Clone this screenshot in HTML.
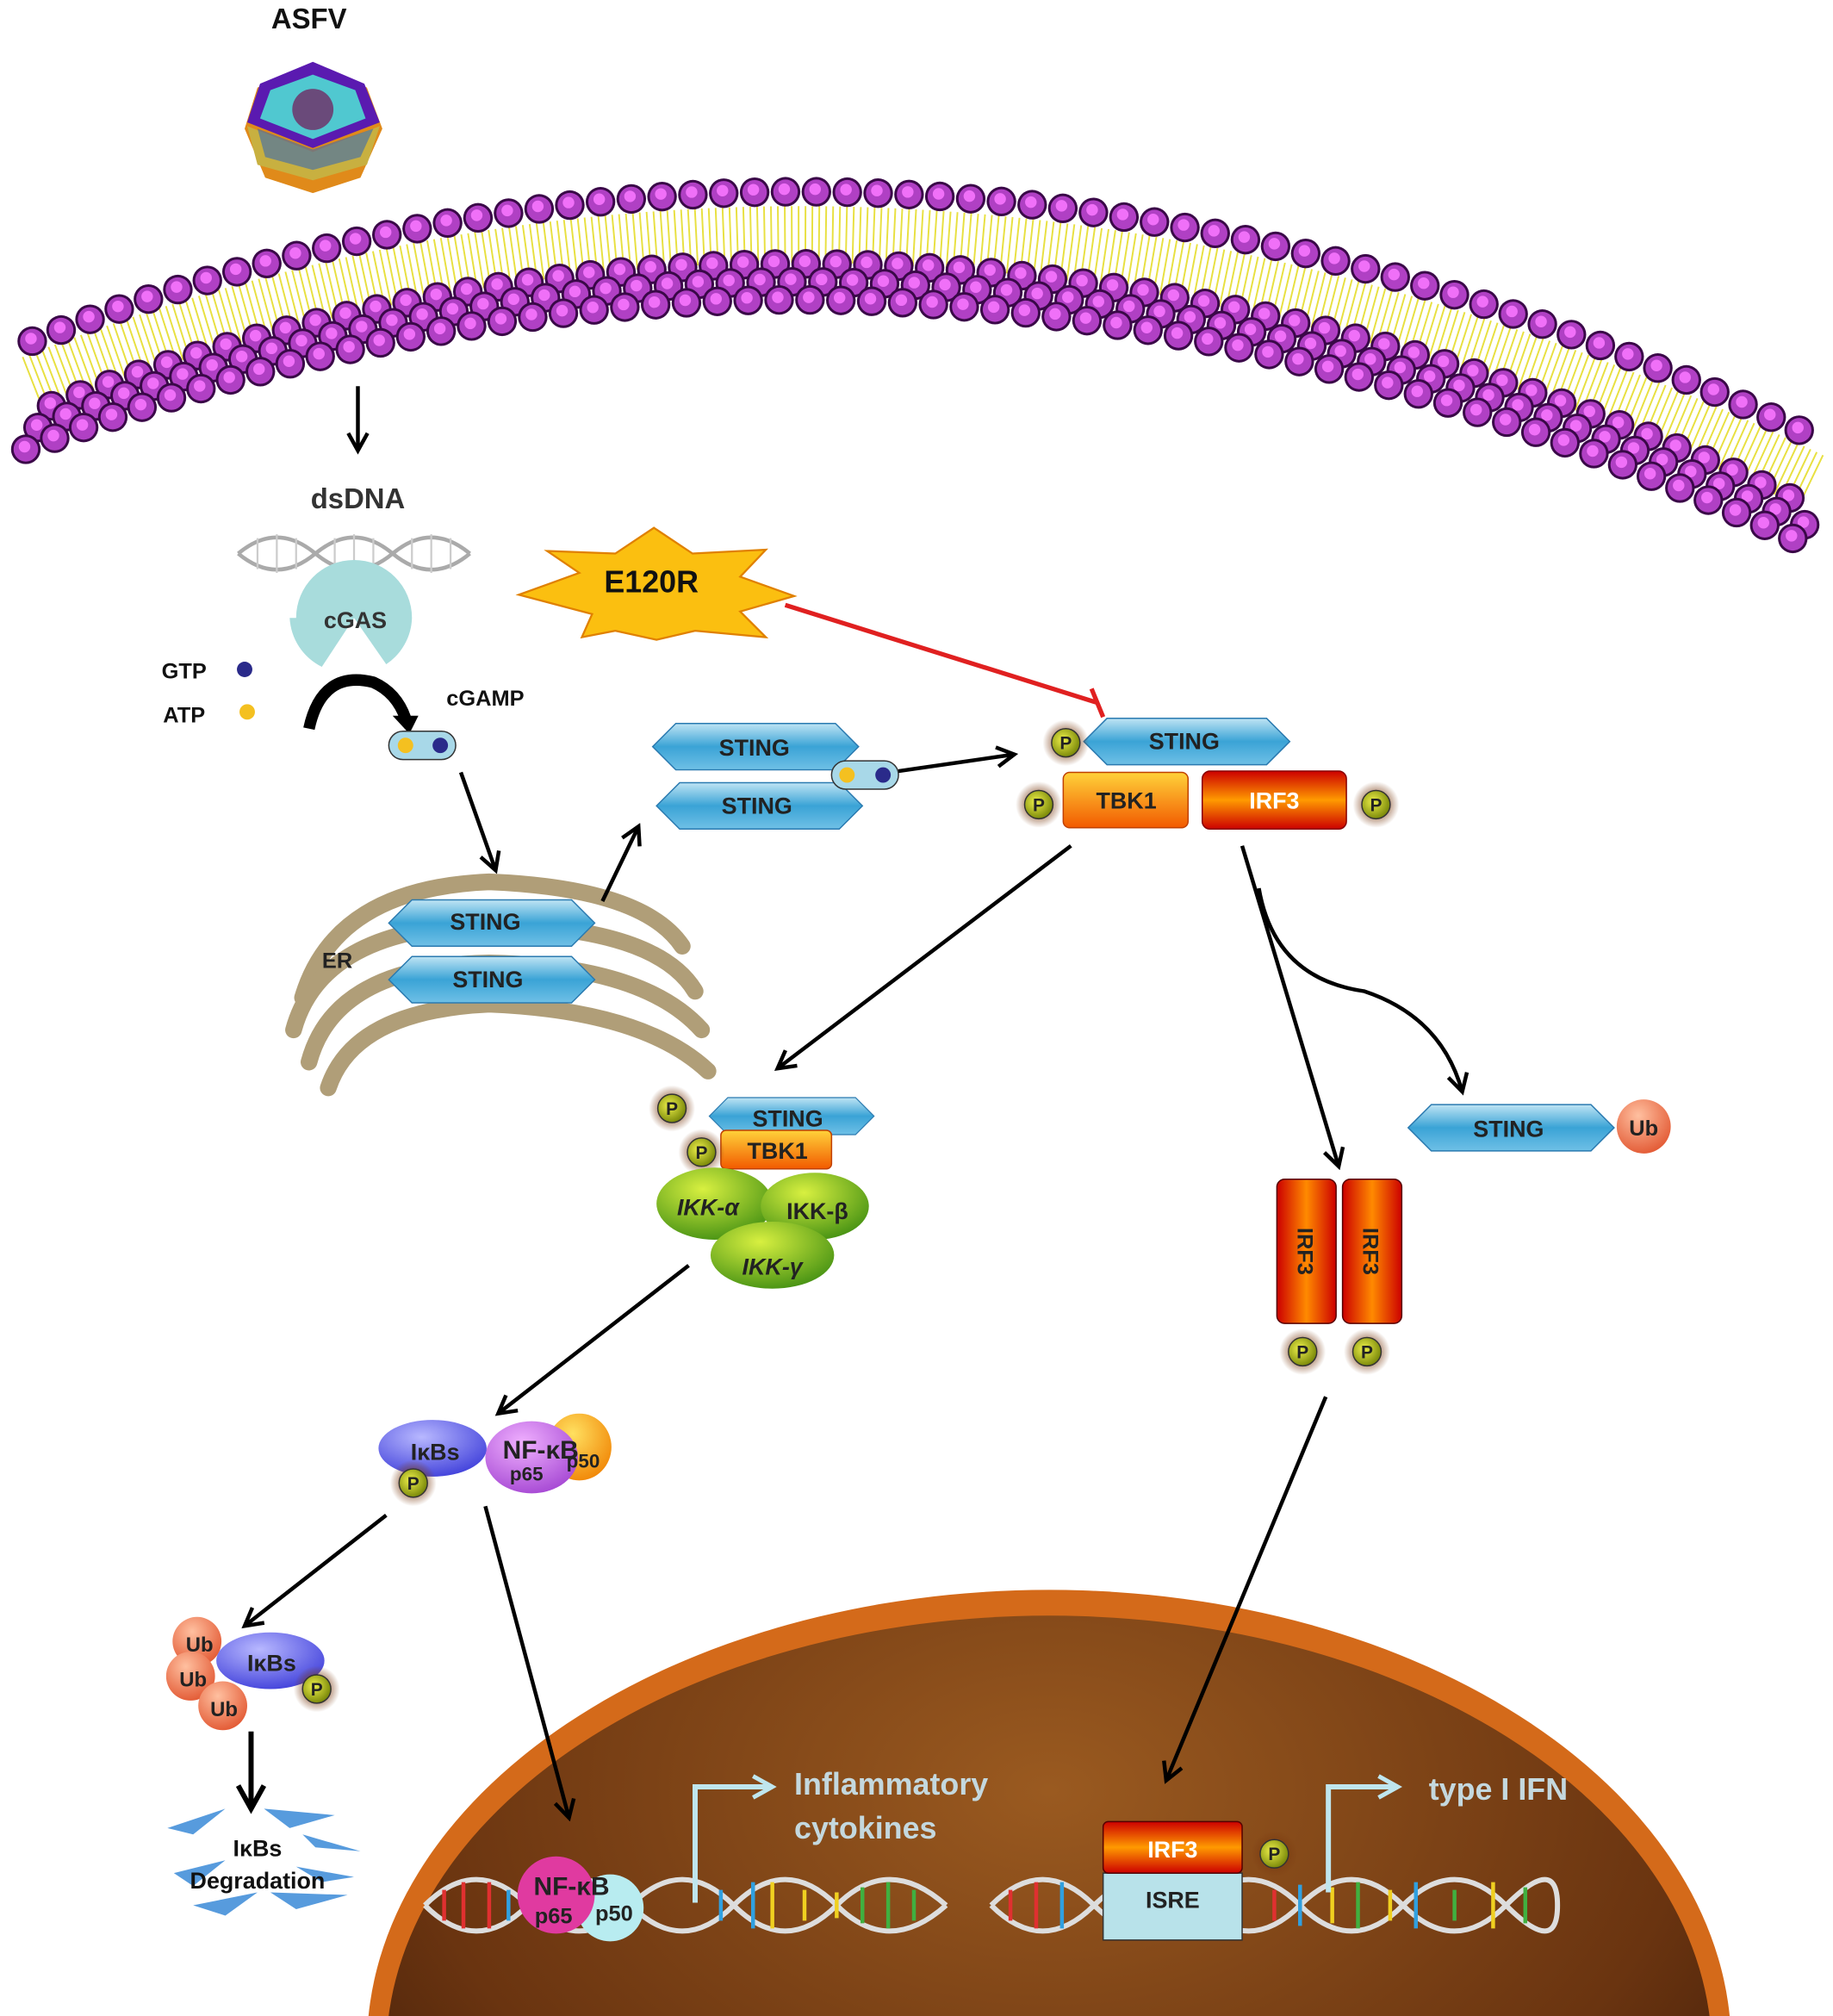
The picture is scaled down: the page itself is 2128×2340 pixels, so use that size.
<!DOCTYPE html>
<html><head><meta charset="utf-8"><style>
html,body{margin:0;padding:0;background:#fff;overflow:hidden;width:2128px;height:2340px}
svg{display:block}
text{font-family:"Liberation Sans",sans-serif;font-weight:bold}
</style></head><body>
<svg width="2128" height="2340" viewBox="0 0 1424 1566" xmlns="http://www.w3.org/2000/svg">
<defs>
<linearGradient id="hx" x1="0" y1="0" x2="0" y2="1"><stop offset="0" stop-color="#bfe4f4"/><stop offset="0.5" stop-color="#3aa3d6"/><stop offset="1" stop-color="#6fc0e6"/></linearGradient>
<linearGradient id="tb" x1="0" y1="0" x2="0" y2="1"><stop offset="0" stop-color="#ffd23a"/><stop offset="1" stop-color="#f25a00"/></linearGradient>
<linearGradient id="ir" x1="0" y1="0" x2="0" y2="1"><stop offset="0" stop-color="#c00"/><stop offset="0.5" stop-color="#ff9a00"/><stop offset="1" stop-color="#c00"/></linearGradient>
<linearGradient id="irv" x1="0" y1="0" x2="1" y2="0"><stop offset="0" stop-color="#c00"/><stop offset="0.5" stop-color="#ff8a00"/><stop offset="1" stop-color="#c00"/></linearGradient>
<radialGradient id="pg" cx="0.4" cy="0.4" r="0.7"><stop offset="0" stop-color="#eef04a"/><stop offset="1" stop-color="#6a7a00"/></radialGradient>
<radialGradient id="ph" cx="0.5" cy="0.5" r="0.5"><stop offset="0.5" stop-color="#7a3a10" stop-opacity="0.6"/><stop offset="1" stop-color="#7a3a10" stop-opacity="0"/></radialGradient>
<radialGradient id="nuc" cx="0.5" cy="0.2" r="0.8"><stop offset="0" stop-color="#9a5a20"/><stop offset="0.6" stop-color="#6a3410"/><stop offset="1" stop-color="#2a1004"/></radialGradient>
<radialGradient id="grn" cx="0.4" cy="0.3" r="0.8"><stop offset="0" stop-color="#d8f040"/><stop offset="1" stop-color="#3a8a10"/></radialGradient>
<radialGradient id="ub" cx="0.4" cy="0.3" r="0.8"><stop offset="0" stop-color="#ffc0a0"/><stop offset="1" stop-color="#e0502a"/></radialGradient>
<radialGradient id="ikb" cx="0.4" cy="0.3" r="0.8"><stop offset="0" stop-color="#b8b8ff"/><stop offset="1" stop-color="#3838d8"/></radialGradient>
<radialGradient id="p65" cx="0.4" cy="0.3" r="0.8"><stop offset="0" stop-color="#f0b0ff"/><stop offset="1" stop-color="#a040d0"/></radialGradient>
<radialGradient id="p50" cx="0.4" cy="0.3" r="0.8"><stop offset="0" stop-color="#ffe060"/><stop offset="1" stop-color="#f08000"/></radialGradient>
<marker id="ah" viewBox="0 0 12 12" refX="10" refY="6" markerWidth="6" markerHeight="6" orient="auto"><path d="M1,1 L10,6 L1,11" fill="none" stroke="#000" stroke-width="2"/></marker>
<marker id="ahc" viewBox="0 0 12 12" refX="10" refY="6" markerWidth="5" markerHeight="5" orient="auto"><path d="M1,1 L10,6 L1,11" fill="none" stroke="#bfe6ee" stroke-width="2"/></marker>
<symbol id="hex" viewBox="-82 -20 164 40" overflow="visible"><polygon points="-80,0 -62,-18 62,-18 80,0 62,18 -62,18" fill="url(#hx)" stroke="#2a7ab0" stroke-width="1"/></symbol>
<g id="P"><circle r="18" fill="url(#ph)"/><circle r="11" fill="url(#pg)" stroke="#333" stroke-width="1"/><text y="5" text-anchor="middle" font-size="14" fill="#222">P</text></g>
<g id="row" fill="none" stroke-linecap="round">
<path d="M25,265 Q700,0 1410,340" stroke="#3a0848" stroke-width="23" stroke-dasharray="0 24"/>
<path d="M25,265 Q700,0 1410,340" stroke="#b040c4" stroke-width="19" stroke-dasharray="0 24"/>
<path d="M24,263 Q699,-2 1409,338" stroke="#f070f8" stroke-width="9" stroke-dasharray="0 24"/>
</g>
</defs>

<!-- membrane -->
<path d="M25,298 Q700,33 1408,374" fill="none" stroke="#e8e040" stroke-width="44" stroke-dasharray="1.3 4"/>
<use href="#row" x="0" y="56" style="stroke-dashoffset:8"/>
<use href="#row" x="-3" y="70" style="stroke-dashoffset:16"/>
<use href="#row" x="-5" y="84"/>
<use href="#row"/>

<!-- nucleus -->
<ellipse cx="815" cy="1590" rx="530" ry="355" fill="#d46a1a"/>
<ellipse cx="815" cy="1595" rx="515" ry="340" fill="url(#nuc)"/>

<!-- ASFV -->
<text x="240" y="22" text-anchor="middle" font-size="22" fill="#111">ASFV</text>
<polygon points="243,50 285,68 297,100 280,138 243,150 206,138 190,100 200,68" fill="#e08a1a"/>
<polygon points="192,98 243,118 295,98 285,128 243,140 200,128" fill="#c8b040"/>
<polygon points="200,100 243,116 290,100 280,122 243,132 206,122" fill="#3a6ab0" opacity="0.6"/>
<polygon points="243,48 283,65 295,95 243,115 192,95 202,65" fill="#5a1ab0"/>
<polygon points="243,58 276,70 284,92 243,108 202,92 210,70" fill="#50c8d0"/>
<circle cx="243" cy="85" r="16" fill="#6a4a7a"/>

<!-- dsDNA -->
<line x1="278" y1="300" x2="278" y2="350" stroke="#000" stroke-width="3" marker-end="url(#ah)"/>
<text x="278" y="395" text-anchor="middle" font-size="22" fill="#333">dsDNA</text>
<path d="M185,430 Q215,405 245,430 T305,430 T365,430" fill="none" stroke="#aaa" stroke-width="3"/>
<path d="M185,430 Q215,455 245,430 T305,430 T365,430" fill="none" stroke="#aaa" stroke-width="3"/>
<path d="M200,418 v24 M215,415 v30 M230,418 v24 M260,418 v24 M275,415 v30 M290,418 v24 M320,418 v24 M335,415 v30 M350,418 v24" stroke="#ccc" stroke-width="1.5"/>
<!-- cGAS -->
<path d="M275,480 m-45,0 a45,45 0 1,1 90,0 a45,45 0 0,1 -20,36 L275,480 L250,518 a45,45 0 0,1 -25,-38z" fill="#a8dcdc"/>
<text x="276" y="488" text-anchor="middle" font-size="18" fill="#333">cGAS</text>
<text x="143" y="527" text-anchor="middle" font-size="17" fill="#111">GTP</text>
<circle cx="190" cy="520" r="6" fill="#2a2a8a"/>
<text x="143" y="561" text-anchor="middle" font-size="17" fill="#111">ATP</text>
<circle cx="192" cy="553" r="6" fill="#f4c020"/>
<path d="M240,566 Q250,520 290,530 Q308,538 315,558" fill="none" stroke="#000" stroke-width="9"/>
<polygon points="305,556 325,556 318,570" fill="#000"/>
<text x="377" y="548" text-anchor="middle" font-size="17" fill="#111">cGAMP</text>
<rect x="302" y="568" width="52" height="22" rx="11" fill="#a8d8e8" stroke="#333"/>
<circle cx="315" cy="579" r="6" fill="#f4c020"/><circle cx="342" cy="579" r="6" fill="#2a2a8a"/>
<line x1="358" y1="600" x2="385" y2="676" stroke="#000" stroke-width="3" marker-end="url(#ah)"/>

<!-- ER -->
<g fill="none" stroke="#a8946a" stroke-width="13" stroke-linecap="round" opacity="0.9">
<path d="M235,775 Q260,690 380,685 Q500,690 530,735"/>
<path d="M228,800 Q250,720 380,718 Q510,720 540,770"/>
<path d="M240,825 Q260,750 380,748 Q500,750 545,800"/>
<path d="M255,845 Q275,785 380,780 Q500,785 550,832"/>
</g>
<text x="262" y="752" text-anchor="middle" font-size="17" fill="#222">ER</text>
<use href="#hex" x="300" y="697" width="164" height="40"/>
<text x="377" y="722" text-anchor="middle" font-size="18" fill="#222">STING</text>
<use href="#hex" x="300" y="741" width="164" height="40"/>
<text x="379" y="767" text-anchor="middle" font-size="18" fill="#222">STING</text>
<line x1="468" y1="700" x2="496" y2="642" stroke="#000" stroke-width="3" marker-end="url(#ah)"/>

<use href="#hex" x="505" y="560" width="164" height="40"/>
<text x="586" y="587" text-anchor="middle" font-size="18" fill="#222">STING</text>
<use href="#hex" x="508" y="606" width="164" height="40"/>
<text x="588" y="632" text-anchor="middle" font-size="18" fill="#222">STING</text>
<rect x="646" y="591" width="52" height="22" rx="11" fill="#a8d8e8" stroke="#333"/>
<circle cx="658" cy="602" r="6" fill="#f4c020"/><circle cx="686" cy="602" r="6" fill="#2a2a8a"/>
<line x1="698" y1="599" x2="788" y2="586" stroke="#000" stroke-width="3" marker-end="url(#ah)"/>

<!-- E120R -->
<polygon points="403,462 450,445 425,428 478,430 508,410 538,430 595,427 575,448 617,463 575,475 595,495 540,490 510,497 478,490 452,495 460,477" fill="#fbbf10" stroke="#e08000" stroke-width="1.5"/>
<text x="506" y="460" text-anchor="middle" font-size="24" fill="#111">E120R</text>
<line x1="610" y1="470" x2="853" y2="546" stroke="#e02020" stroke-width="3.5"/>
<line x1="848" y1="535" x2="857" y2="557" stroke="#e02020" stroke-width="3.5"/>

<!-- top complex -->
<use href="#hex" x="840" y="556" width="164" height="40"/>
<text x="920" y="582" text-anchor="middle" font-size="18" fill="#222">STING</text>
<use href="#P" x="828" y="577"/>
<rect x="826" y="600" width="97" height="43" rx="5" fill="url(#tb)" stroke="#c04000"/>
<text x="875" y="628" text-anchor="middle" font-size="18" fill="#222">TBK1</text>
<rect x="934" y="599" width="112" height="45" rx="6" fill="url(#ir)" stroke="#800"/>
<text x="990" y="628" text-anchor="middle" font-size="18" fill="#fff">IRF3</text>
<use href="#P" x="807" y="625"/>
<use href="#P" x="1069" y="625"/>

<line x1="832" y1="657" x2="604" y2="830" stroke="#000" stroke-width="3" marker-end="url(#ah)"/>
<line x1="965" y1="657" x2="1040" y2="906" stroke="#000" stroke-width="3" marker-end="url(#ah)"/>
<path d="M978,690 Q990,760 1060,770 Q1120,790 1136,848" fill="none" stroke="#000" stroke-width="3" marker-end="url(#ah)"/>

<!-- STING-Ub -->
<use href="#hex" x="1092" y="856" width="164" height="40"/>
<text x="1172" y="883" text-anchor="middle" font-size="18" fill="#222">STING</text>
<circle cx="1277" cy="875" r="21" fill="url(#ub)"/>
<text x="1277" y="882" text-anchor="middle" font-size="17" fill="#222">Ub</text>

<!-- IRF3 dimer -->
<rect x="992" y="916" width="46" height="112" rx="6" fill="url(#irv)" stroke="#500"/>
<rect x="1043" y="916" width="46" height="112" rx="6" fill="url(#irv)" stroke="#500"/>
<text transform="translate(1008,972) rotate(90)" text-anchor="middle" font-size="17" fill="#222">IRF3</text>
<text transform="translate(1059,972) rotate(90)" text-anchor="middle" font-size="17" fill="#222">IRF3</text>
<use href="#P" x="1012" y="1050"/><use href="#P" x="1062" y="1050"/>
<line x1="1030" y1="1085" x2="906" y2="1383" stroke="#000" stroke-width="3" marker-end="url(#ah)"/>

<!-- middle complex -->
<use href="#hex" x="533" y="851" width="164" height="32"/>
<text x="612" y="875" text-anchor="middle" font-size="18" fill="#222">STING</text>
<use href="#P" x="522" y="861"/>
<rect x="560" y="878" width="86" height="30" rx="4" fill="url(#tb)" stroke="#c04000"/>
<text x="604" y="900" text-anchor="middle" font-size="18" fill="#222">TBK1</text>
<use href="#P" x="545" y="895"/>
<ellipse cx="555" cy="935" rx="45" ry="28" fill="url(#grn)"/>
<ellipse cx="633" cy="937" rx="42" ry="26" fill="url(#grn)"/>
<ellipse cx="600" cy="975" rx="48" ry="26" fill="url(#grn)"/>
<text x="550" y="944" text-anchor="middle" font-size="18" fill="#222" font-style="italic" font-weight="normal">IKK-α</text>
<text x="635" y="947" text-anchor="middle" font-size="18" fill="#222" font-weight="normal">IKK-β</text>
<text x="600" y="990" text-anchor="middle" font-size="18" fill="#222" font-style="italic" font-weight="normal">IKK-γ</text>
<line x1="535" y1="983" x2="387" y2="1098" stroke="#000" stroke-width="3" marker-end="url(#ah)"/>

<!-- IkBs NF-kB -->
<ellipse cx="450" cy="1124" rx="25" ry="26" fill="url(#p50)"/>
<ellipse cx="413" cy="1132" rx="36" ry="28" fill="url(#p65)"/>
<ellipse cx="336" cy="1125" rx="42" ry="22" fill="url(#ikb)"/>
<text x="338" y="1134" text-anchor="middle" font-size="18" fill="#222" font-weight="normal">IκBs</text>
<text x="420" y="1133" text-anchor="middle" font-size="20" fill="#222">NF-κB</text>
<text x="409" y="1150" text-anchor="middle" font-size="15" fill="#222">p65</text>
<text x="453" y="1140" text-anchor="middle" font-size="15" fill="#222">p50</text>
<use href="#P" x="321" y="1152"/>
<line x1="300" y1="1177" x2="190" y2="1263" stroke="#000" stroke-width="3" marker-end="url(#ah)"/>
<line x1="377" y1="1170" x2="442" y2="1412" stroke="#000" stroke-width="3" marker-end="url(#ah)"/>

<!-- Ub IkBs -->
<circle cx="153" cy="1275" r="19" fill="url(#ub)"/>
<circle cx="148" cy="1302" r="19" fill="url(#ub)"/>
<circle cx="173" cy="1325" r="19" fill="url(#ub)"/>
<text x="155" y="1283" text-anchor="middle" font-size="16" fill="#222">Ub</text>
<text x="150" y="1310" text-anchor="middle" font-size="16" fill="#222">Ub</text>
<text x="174" y="1333" text-anchor="middle" font-size="16" fill="#222">Ub</text>
<ellipse cx="210" cy="1290" rx="42" ry="22" fill="url(#ikb)"/>
<text x="211" y="1298" text-anchor="middle" font-size="18" fill="#222" font-weight="normal">IκBs</text>
<use href="#P" x="246" y="1312"/>
<line x1="195" y1="1345" x2="195" y2="1405" stroke="#000" stroke-width="4" marker-end="url(#ah)"/>
<g fill="#3a8ad8" opacity="0.85">
<path d="M130,1420 L175,1405 L150,1425z"/><path d="M205,1405 L260,1410 L225,1420z"/><path d="M235,1425 L280,1438 L245,1435z"/>
<path d="M135,1455 L175,1445 L150,1465z"/><path d="M150,1480 L200,1470 L175,1488z"/><path d="M210,1470 L270,1472 L230,1483z"/><path d="M230,1450 L275,1458 L250,1462z"/>
</g>
<text x="200" y="1442" text-anchor="middle" font-size="18" fill="#111">IκBs</text>
<text x="200" y="1467" text-anchor="middle" font-size="18" fill="#111">Degradation</text>

<!-- DNA strands -->
<path d="M330,1480 Q370,1440 410,1480 T490,1480 T570,1480 T650,1480 T735,1480" fill="none" stroke="#ddd" stroke-width="4"/>
<path d="M330,1480 Q370,1520 410,1480 T490,1480 T570,1480 T650,1480 T735,1480" fill="none" stroke="#ddd" stroke-width="4"/>
<g stroke-width="3">
<path d="M345,1468v24M360,1462v36M380,1462v36" stroke="#e03030"/><path d="M395,1468v24M560,1468v24M585,1462v36" stroke="#30a0e0"/>
<path d="M600,1462v36M625,1468v24M650,1470v20" stroke="#f0d020"/><path d="M670,1466v28M690,1462v36M710,1468v24" stroke="#40b040"/>
</g>
<path d="M770,1480 Q810,1440 850,1480 T930,1480 T1010,1480 T1090,1480 T1170,1480 T1210,1480" fill="none" stroke="#ddd" stroke-width="4"/>
<path d="M770,1480 Q810,1520 850,1480 T930,1480 T1010,1480 T1090,1480 T1170,1480 T1210,1480" fill="none" stroke="#ddd" stroke-width="4"/>
<g stroke-width="3">
<path d="M785,1468v24M805,1462v36M990,1468v24" stroke="#e03030"/><path d="M825,1462v36M1010,1464v32M1100,1462v36" stroke="#30a0e0"/>
<path d="M1035,1466v28M1080,1468v24M1160,1462v36" stroke="#f0d020"/><path d="M1055,1462v36M1130,1468v24M1185,1466v28" stroke="#40b040"/>
</g>

<ellipse cx="474" cy="1482" rx="26" ry="26" fill="#b8ecf0"/>
<ellipse cx="432" cy="1472" rx="30" ry="30" fill="#e03aa0"/>
<text x="444" y="1472" text-anchor="middle" font-size="20" fill="#222" font-weight="normal">NF-κB</text>
<text x="430" y="1494" text-anchor="middle" font-size="17" fill="#222" font-weight="normal">p65</text>
<text x="477" y="1492" text-anchor="middle" font-size="17" fill="#222" font-weight="normal">p50</text>
<path d="M540,1478 V1388 H600" fill="none" stroke="#bfe6ee" stroke-width="4" marker-end="url(#ahc)"/>
<text x="617" y="1394" font-size="24" fill="#c4d8de">Inflammatory</text>
<text x="617" y="1428" font-size="24" fill="#c4d8de">cytokines</text>

<rect x="857" y="1455" width="108" height="52" fill="#b8e2ea" stroke="#333"/>
<text x="911" y="1482" text-anchor="middle" font-size="18" fill="#222" font-weight="normal">ISRE</text>
<rect x="857" y="1415" width="108" height="40" rx="4" fill="url(#ir)" stroke="#500"/>
<text x="911" y="1443" text-anchor="middle" font-size="18" fill="#fff" font-weight="normal">IRF3</text>
<use href="#P" x="990" y="1440"/>
<path d="M1032,1470 V1388 H1086" fill="none" stroke="#bfe6ee" stroke-width="4" marker-end="url(#ahc)"/>
<text x="1110" y="1398" font-size="24" fill="#c4d8de">type I IFN</text>
</svg>
</body></html>
